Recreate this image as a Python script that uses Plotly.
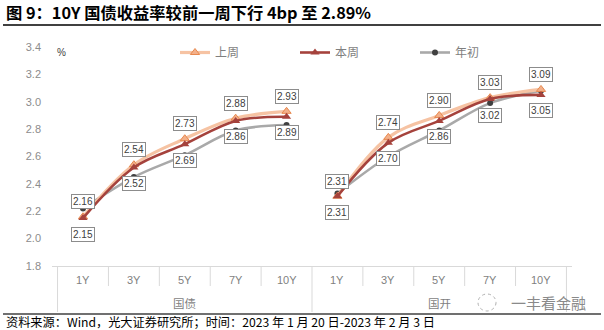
import plotly.graph_objects as go

groups = ["国债", "国开"]
tenors = ["1Y", "3Y", "5Y", "7Y", "10Y"]

gz_last = [2.16, 2.54, 2.73, 2.88, 2.93]
gz_this = [2.15, 2.52, 2.69, 2.86, 2.89]
gz_start = [2.22, 2.45, 2.61, 2.79, 2.83]

gk_last = [2.31, 2.74, 2.90, 3.03, 3.09]
gk_this = [2.31, 2.70, 2.86, 3.02, 3.05]
gk_start = [2.33, 2.60, 2.79, 2.99, 3.08]

series_names = ["上周", "本周", "年初"]

W, H = 604, 330
L, R, T, B = 52, 32, 47, 64
PW, PH = W - L - R, H - T - B


def px2x(px):
    return (px - L) / PW


def py2y(py):
    return (H - B - py) / PH


FONT = "Liberation Sans, Arial, Noto Sans CJK SC"
CJK = "Noto Sans CJK SC, Liberation Sans"
AXC = "#D9D9D9"

styles = {
    "上周": dict(line=dict(color="#F6C3A3", width=3.2, shape="spline"),
                 marker=dict(symbol="triangle-up", size=8, color="#F3B08A",
                             line=dict(color="#E8894F", width=1))),
    "本周": dict(line=dict(color="#A5423C", width=2.6, shape="spline"),
                 marker=dict(symbol="triangle-up", size=8, color="#A5423C")),
    "年初": dict(line=dict(color="#A9A9A9", width=2.6, shape="spline"),
                 marker=dict(symbol="circle", size=6, color="#404040")),
}

data = {
    "国债": {"上周": gz_last, "本周": gz_this, "年初": gz_start},
    "国开": {"上周": gk_last, "本周": gk_this, "年初": gk_start},
}

fig = go.Figure()
for name in ["年初", "上周", "本周"]:
    for gi, g in enumerate(groups):
        fig.add_trace(go.Scatter(
            x=[[g] * len(tenors), tenors],
            y=data[g][name],
            mode="lines+markers",
            name=name,
            legendgroup=name,
            showlegend=(gi == 0),
            legendrank={"上周": 1, "本周": 2, "年初": 3}[name],
            **styles[name],
        ))

annotations = []
shapes = []
n = len(tenors)
# data labels: 上周 above, 本周 below
for gi, g in enumerate(groups):
    for ti, t in enumerate(tenors):
        idx = gi * n + ti
        for name, shift in (("上周", 15), ("本周", -16)):
            v = data[g][name][ti]
            annotations.append(dict(
                x=idx, y=v, xref="x", yref="y", text=f"{v:.2f}",
                showarrow=False, yshift=shift,
                font=dict(family=FONT, size=10, color="#404040"),
                bgcolor="white", bordercolor="#8C8C8C", borderwidth=1,
                borderpad=1,
            ))
        # inner category label
        annotations.append(dict(
            x=idx, y=py2y(280), xref="x", yref="paper", text=t,
            showarrow=False, yanchor="middle",
            font=dict(family=FONT, size=11, color="#7F7F7F"),
        ))
        if ti > 0:
            shapes.append(dict(type="line", xref="x", yref="paper",
                               x0=idx - 0.5, x1=idx - 0.5,
                               y0=py2y(266), y1=py2y(286),
                               line=dict(color=AXC, width=1)))
    # outer group label
    annotations.append(dict(
        x=gi * n + (n - 1) / 2, y=py2y(303), xref="x", yref="paper", text=g,
        showarrow=False, yanchor="middle",
        font=dict(family=CJK, size=11.5, color="#7F7F7F"),
    ))
    shapes.append(dict(type="line", xref="x", yref="paper",
                       x0=gi * n - 0.5, x1=gi * n - 0.5,
                       y0=py2y(266), y1=py2y(312),
                       line=dict(color=AXC, width=1)))
shapes.append(dict(type="line", xref="x", yref="paper",
                   x0=len(groups) * n - 0.5, x1=len(groups) * n - 0.5,
                   y0=py2y(266), y1=py2y(312),
                   line=dict(color=AXC, width=1)))

annotations += [
    dict(x=px2x(4), y=py2y(12), xref="paper", yref="paper", xanchor="left",
         yanchor="middle", showarrow=False,
         text="<b>图 9：10Y 国债收益率较前一周下行 4bp 至 2.89%</b>",
         font=dict(family=CJK, size=16.3, color="#000000")),
    dict(x=px2x(4), y=py2y(322), xref="paper", yref="paper", xanchor="left",
         yanchor="middle", showarrow=False,
         text="资料来源：Wind，光大证券研究所；时间：2023 年 1 月 20 日-2023 年 2 月 3 日",
         font=dict(family=CJK, size=12.2, color="#000000")),
    dict(x=px2x(55), y=py2y(52), xref="paper", yref="paper", xanchor="left",
         yanchor="middle", showarrow=False, text="%",
         font=dict(family=FONT, size=10, color="#404040")),
    dict(x=px2x(548), y=py2y(302), xref="paper", yref="paper", xanchor="center",
         yanchor="middle", showarrow=False, text="一丰看金融",
         font=dict(family=CJK, size=15, color="#8A8A8A")),
]

shapes += [
    dict(type="line", xref="paper", yref="paper", x0=px2x(3), x1=px2x(601),
         y0=py2y(25), y1=py2y(25), line=dict(color="#404040", width=1.8)),
    dict(type="line", xref="paper", yref="paper", x0=px2x(3), x1=px2x(601),
         y0=py2y(314), y1=py2y(314), line=dict(color="#404040", width=1.5)),
    dict(type="circle", xref="paper", yref="paper", x0=px2x(478), x1=px2x(496),
         y0=py2y(311), y1=py2y(294),
         line=dict(color="#B0B0B0", width=1, dash="dot")),
]

fig.update_layout(
    width=W, height=H,
    margin=dict(l=L, r=R, t=T, b=B),
    paper_bgcolor="white", plot_bgcolor="white",
    font=dict(family=FONT, size=11, color="#7F7F7F"),
    showlegend=True,
    legend=dict(orientation="h", x=px2x(175), y=py2y(38), xanchor="left",
                yanchor="top", entrywidth=75, entrywidthmode="pixels",
                font=dict(family=CJK, size=12, color="#7F7F7F"),
                bgcolor="rgba(0,0,0,0)", traceorder="normal"),
    annotations=annotations,
    shapes=shapes,
    xaxis=dict(
        type="multicategory",
        showline=True, linecolor=AXC, linewidth=1,
        ticks="", showticklabels=False, showdividers=False,
        showgrid=False, zeroline=False,
    ),
    yaxis=dict(
        range=[1.8, 3.4], dtick=0.2, tickformat=".1f",
        showgrid=False, zeroline=False, showline=False,
        ticks="", ticklabelstandoff=10,
        tickfont=dict(family=FONT, size=11, color="#8C8C8C"),
    ),
)

fig.write_html("out.html")
